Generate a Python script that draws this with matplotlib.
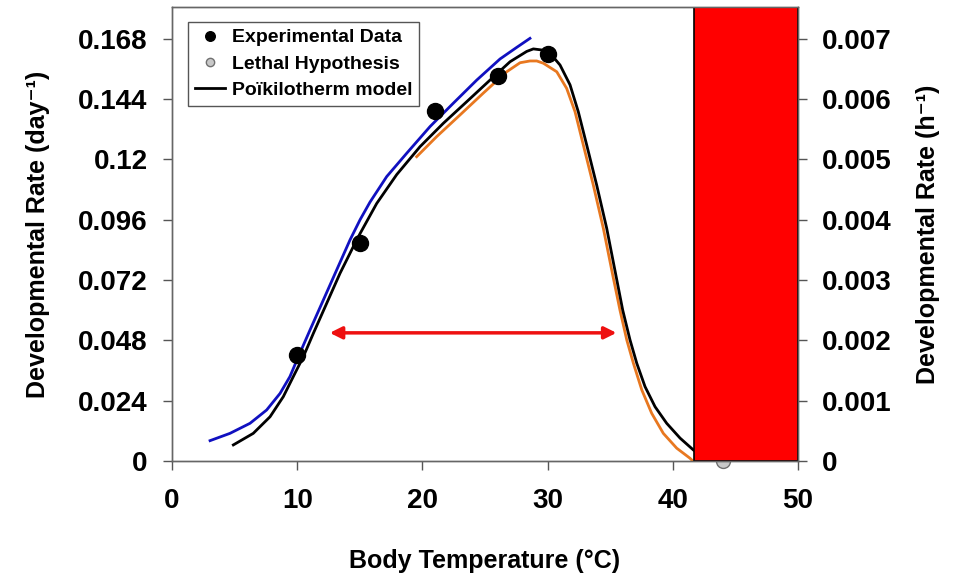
import numpy as np
import matplotlib
matplotlib.use("Agg")
import matplotlib.pyplot as plt

plt.rcParams["font.family"] = ["Liberation Sans", "DejaVu Sans"]
plt.rcParams["font.weight"] = "bold"

# data ---------------------------------------------------------------------------------

exp_temp = [10, 15, 21, 26, 30]
exp_rate = [0.0422, 0.0868, 0.1393, 0.1532, 0.162]

lethal_temp = [44]
lethal_rate = [0.0]

model_temp = [4.90, 6.49, 7.83, 8.89, 9.82, 10.49, 11.29, 12.36, 13.42, 14.48, 15.02,
              16.35, 17.95, 19.81, 21.67, 23.54, 25.40, 27.0, 28.33, 28.86, 29.5,
              30.19, 30.99, 31.79, 32.45, 33.12, 33.92, 34.72, 35.45, 36.0, 36.58,
              37.12, 37.78, 38.58, 39.51, 40.58, 41.64]
model_rate = [0.0064, 0.0110, 0.0176, 0.0256, 0.0349, 0.0415, 0.0508, 0.0628, 0.0747,
              0.0853, 0.0905, 0.1025, 0.1140, 0.1251, 0.1344, 0.1430, 0.1516, 0.1589,
              0.1630, 0.1640, 0.1636, 0.1623, 0.1576, 0.1497, 0.1390, 0.1258, 0.1098,
              0.0926, 0.0740, 0.0600, 0.0482, 0.0389, 0.0296, 0.0216, 0.0150, 0.0091,
              0.0044]

blue_temp = [3.04, 4.63, 6.23, 7.56, 8.63, 9.42, 10.09, 11.02, 12.09, 13.15, 14.22,
             15.02, 15.81, 17.15, 18.75, 20.61, 22.47, 24.34, 26.20, 27.5, 28.59]
blue_rate = [0.0081, 0.0110, 0.0150, 0.0203, 0.0269, 0.0336, 0.0415, 0.0521, 0.0641,
             0.0760, 0.0880, 0.0960, 0.1030, 0.1132, 0.1225, 0.1331, 0.1424, 0.1516,
             0.1600, 0.1645, 0.1682]

orange_temp = [19.54, 21.14, 23.0, 24.86, 26.73, 27.8, 28.59, 29.13, 29.66, 30.73,
               31.52, 32.19, 32.85, 33.65, 34.45, 35.2, 35.78, 36.32, 36.85, 37.52,
               38.31, 39.24, 40.31, 41.37, 41.6]
orange_rate = [0.1211, 0.1291, 0.1377, 0.1464, 0.1549, 0.1585, 0.1592, 0.1592, 0.1583,
               0.1549, 0.1483, 0.1390, 0.1258, 0.1098, 0.0926, 0.0740, 0.0600, 0.0482,
               0.0389, 0.0283, 0.0190, 0.0110, 0.0051, 0.0011, 0.0]

lethal_zone = [41.7, 50]
arrow_span = [12.6, 35.5]
arrow_rate = 0.051

left_ticks = [0, 0.024, 0.048, 0.072, 0.096, 0.12, 0.144, 0.168]
left_labels = ["0", "0.024", "0.048", "0.072", "0.096", "0.12", "0.144", "0.168"]
right_ticks = [0, 0.001, 0.002, 0.003, 0.004, 0.005, 0.006, 0.007]
right_labels = ["0", "0.001", "0.002", "0.003", "0.004", "0.005", "0.006", "0.007"]
x_ticks = [0, 10, 20, 30, 40, 50]

# plot ---------------------------------------------------------------------------------

fig = plt.figure(figsize=(9.63, 5.79), dpi=100)
ax = fig.add_axes([0.1786, 0.2038, 0.6501, 0.7842])

ax.plot(blue_temp, blue_rate, color="#1010c0", lw=2, zorder=3, solid_joinstyle="round")
ax.plot(orange_temp, orange_rate, color="#e87820", lw=2, zorder=3,
        solid_joinstyle="round")
ax.plot(model_temp, model_rate, color="black", lw=2, zorder=4,
        solid_joinstyle="round", label="Poïkilotherm model")
ax.plot(exp_temp, exp_rate, "o", color="black", ms=11.5, zorder=5,
        label="Experimental Data")
ax.plot(lethal_temp, lethal_rate, "o", color="#c8c8c8", mec="#707070", ms=10,
        zorder=1, clip_on=False, label="Lethal Hypothesis")

ax.axvspan(lethal_zone[0], lethal_zone[1], facecolor="#ff0000", edgecolor="black",
           lw=1.2, zorder=6)

ax.annotate("", xy=(arrow_span[1], arrow_rate), xytext=(arrow_span[0], arrow_rate),
            arrowprops=dict(arrowstyle="<|-|>", color="#ee1010", lw=2.5,
                            mutation_scale=18, shrinkA=0, shrinkB=0),
            zorder=5)

ax.set_xlim(0, 50)
ax.set_ylim(0, 0.1807)
ax.set_xticks(x_ticks)
ax.set_yticks(left_ticks)
ax.set_yticklabels(left_labels)
ax.tick_params(axis="both", direction="out", length=6.5, width=1, color="#555555",
               labelsize=20, pad=11)
ax.tick_params(axis="x", pad=13)
for sp in ax.spines.values():
    sp.set_color("#666666")
    sp.set_linewidth(1)

ax.set_xlabel("Body Temperature (°C)", fontsize=18, fontweight="bold", labelpad=25)
ax.set_ylabel("Developmental Rate (day⁻¹)", fontsize=18, fontweight="bold",
              labelpad=20)

ax2 = ax.twinx()
ax2.set_ylim(0, 0.1807 / 24)
ax2.set_yticks(right_ticks)
ax2.set_yticklabels(right_labels)
ax2.tick_params(axis="y", direction="out", length=6.5, width=1, color="#555555",
                labelsize=20, pad=11)
for sp in ax2.spines.values():
    sp.set_color("#666666")
    sp.set_linewidth(1)
ax2.set_ylabel("Developmental Rate (h⁻¹)", fontsize=18, fontweight="bold",
               labelpad=17)

handles, labels = ax.get_legend_handles_labels()
order = [1, 2, 0]
leg = ax.legend([handles[i] for i in order], [labels[i] for i in order],
                loc="upper left", bbox_to_anchor=(0.0256, 0.967), fontsize=14,
                markerscale=0.6, handlelength=1.55, handletextpad=0.35,
                borderpad=0.35, borderaxespad=0, labelspacing=0.45, frameon=True,
                fancybox=False, edgecolor="#555555", framealpha=1)
leg.get_frame().set_linewidth(1)
for t in leg.get_texts():
    t.set_fontweight("bold")

fig.savefig("out.png", dpi=100)
